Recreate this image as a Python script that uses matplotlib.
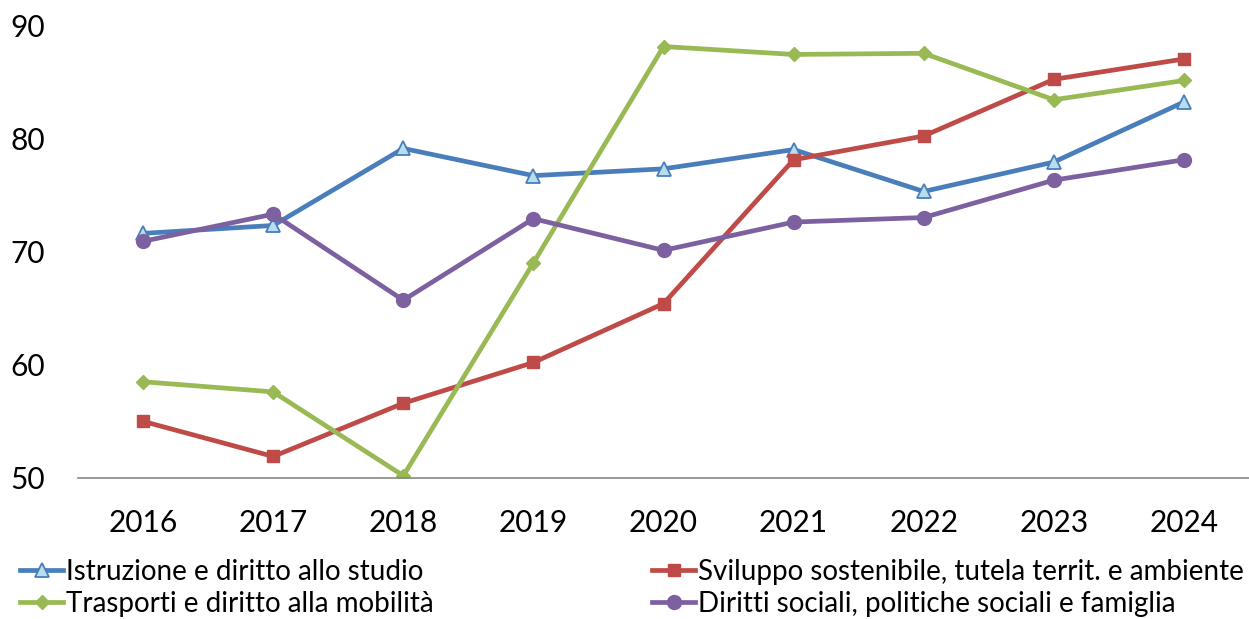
import matplotlib.pyplot as plt

plt.rcParams['font.family'] = ['Lato', 'DejaVu Sans']

# dati
anni = ['2016', '2017', '2018', '2019', '2020', '2021', '2022', '2023', '2024']
istruzione = [71.6, 72.3, 79.1, 76.7, 77.3, 79.0, 75.3, 77.9, 83.2]
sviluppo = [55.0, 51.9, 56.6, 60.2, 65.4, 78.1, 80.2, 85.2, 87.0]
trasporti = [58.5, 57.6, 50.2, 69.0, 88.1, 87.4, 87.5, 83.4, 85.1]
diritti = [70.9, 73.3, 65.7, 72.9, 70.1, 72.6, 73.0, 76.3, 78.1]

y_ticks = [50, 60, 70, 80, 90]

fig = plt.figure(figsize=(12.49, 6.19), dpi=100)
ax = fig.add_axes([0.0625, 0.2278, 0.9375, 0.7318])

x = range(len(anni))
l1, = ax.plot(x, istruzione, color='#4A7EBB', lw=3.4, marker='^', ms=10,
              mfc='#B7DDEE', mec='#4A7EBB', mew=1.3,
              label='Istruzione e diritto allo studio')
l2, = ax.plot(x, sviluppo, color='#BE4B48', lw=3.4, marker='s', ms=9,
              mfc='#BE4B48', mec='#BE4B48',
              label='Sviluppo sostenibile, tutela territ. e ambiente')
l3, = ax.plot(x, trasporti, color='#98B954', lw=3.4, marker='D', ms=7,
              mfc='#98B954', mec='#98B954',
              label='Trasporti e diritto alla mobilità')
l4, = ax.plot(x, diritti, color='#7D60A0', lw=3.4, marker='o', ms=10,
              mfc='#7D60A0', mec='#7D60A0',
              label='Diritti sociali, politiche sociali e famiglia')

ax.set_xlim(-0.5, len(anni) - 0.5)
ax.set_ylim(50, 90)
ax.set_xticks(list(x))
ax.set_xticklabels(anni, fontsize=21.5)
ax.set_yticks(y_ticks)
ax.set_yticklabels([str(v) for v in y_ticks], fontsize=21.5)
ax.tick_params(axis='both', length=0)
ax.tick_params(axis='x', pad=22)
ax.tick_params(axis='y', pad=24)
for s in ['top', 'right', 'left']:
    ax.spines[s].set_visible(False)
ax.spines['bottom'].set_color('#888888')
ax.spines['bottom'].set_linewidth(1.2)
ax.patch.set_alpha(0)

leg_kw = dict(frameon=False, fontsize=20, handlelength=1.55, handletextpad=0.1,
              labelspacing=0.2, borderaxespad=0, borderpad=0)
leg1 = fig.legend(handles=[l1, l3], loc='upper left',
                  bbox_to_anchor=(0.016, 0.097), **leg_kw)
leg2 = fig.legend(handles=[l2, l4], loc='upper left',
                  bbox_to_anchor=(0.522, 0.097), **leg_kw)

fig.savefig('out.png', dpi=100)
